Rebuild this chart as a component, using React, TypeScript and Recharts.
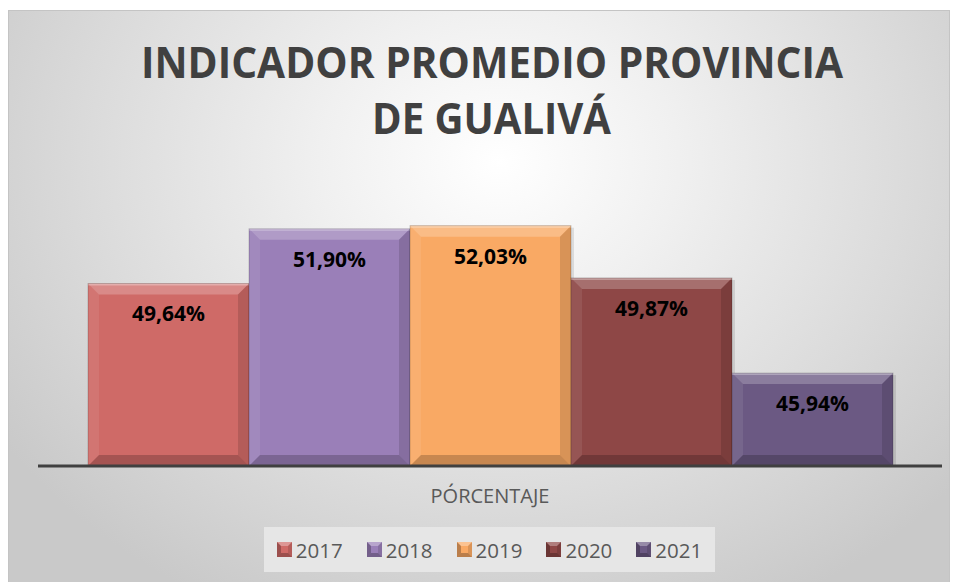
import React from 'react';
import { BarChart, Bar, XAxis, YAxis, Legend, LabelList } from 'recharts';

const categories = ['PÓRCENTAJE'];
const years = ['2017', '2018', '2019', '2020', '2021'];
const values = [49.64, 51.9, 52.03, 49.87, 45.94];
const colors = ['#CF6A67', '#9A7FB8', '#F9A964', '#8E4746', '#6B5983'];
const titleLines = ['INDICADOR PROMEDIO PROVINCIA', 'DE GUALIVÁ'];

const data = categories.map((name) => {
  const row: Record<string, string | number> = { name };
  years.forEach((y, i) => {
    row['y' + y] = values[i];
  });
  return row;
});

const FONT = '"Open Sans", "DejaVu Sans", sans-serif';

const BevelBar = (props: any) => {
  const { x, y, width, height, fill } = props;
  if (!width || !height || height <= 0) return null;
  const b = Math.min(11, height / 3, width / 3);
  const r = x + width;
  const btm = y + height;
  return (
    <g>
      <rect x={x + 3} y={y + 2} width={width} height={height} fill="#000" opacity={0.1} />
      <rect x={x} y={y} width={width} height={height} fill={fill} />
      <polygon points={`${x},${y} ${r},${y} ${r - b},${y + b} ${x + b},${y + b}`} fill="#fff" opacity={0.22} />
      <polygon points={`${x},${y} ${x + b},${y + b} ${x + b},${btm - b} ${x},${btm}`} fill="#fff" opacity={0.08} />
      <polygon points={`${r},${y} ${r},${btm} ${r - b},${btm - b} ${r - b},${y + b}`} fill="#000" opacity={0.13} />
      <polygon points={`${x},${btm} ${r},${btm} ${r - b},${btm - b} ${x + b},${btm - b}`} fill="#000" opacity={0.2} />
      <line x1={x} y1={y + 1} x2={r} y2={y + 1} stroke="#fff" strokeOpacity={0.3} strokeWidth={2} />
      <rect x={x} y={y} width={width} height={height} fill="none" stroke="#000" strokeOpacity={0.18} strokeWidth={1} />
    </g>
  );
};

const Swatch = ({ color }: { color: string }) => (
  <svg width={15} height={15} style={{ display: 'block' }}>
    <rect x={0} y={0} width={15} height={15} fill={color} />
    <polygon points="0,0 15,0 11,4 4,4" fill="#fff" opacity={0.3} />
    <polygon points="0,0 4,4 4,11 0,15" fill="#000" opacity={0.25} />
    <polygon points="15,0 15,15 11,11 11,4" fill="#000" opacity={0.12} />
    <polygon points="0,15 15,15 11,11 4,11" fill="#000" opacity={0.25} />
  </svg>
);

const LegendContent = () => (
  <div
    style={{
      width: 451,
      height: 45,
      background: '#e6e6e6',
      display: 'flex',
      alignItems: 'center',
      justifyContent: 'center',
      gap: 24,
      boxSizing: 'border-box',
    }}
  >
    {years.map((y, i) => (
      <div key={y} style={{ display: 'flex', alignItems: 'center', gap: 4 }}>
        <Swatch color={colors[i]} />
        <span style={{ fontFamily: FONT, fontSize: 20.5, color: '#595959', lineHeight: '20px' }}>{y}</span>
      </div>
    ))}
  </div>
);

const AxisTick = (props: any) => {
  const { x, payload } = props;
  return (
    <text x={x} y={503} textAnchor="middle" fontFamily={FONT} fontSize={20} fill="#595959">
      {payload.value}
    </text>
  );
};

const fmt = (v: any) => Number(v).toFixed(2).replace('.', ',') + '%';

export default function App() {
  return (
    <div style={{ position: 'absolute', left: 0, top: 0, width: 958, height: 582, overflow: 'hidden' }}>
      <div
        style={{
          position: 'absolute',
          left: 8,
          top: 10,
          width: 942,
          height: 580,
          border: '1px solid #c4c4c4',
          boxSizing: 'border-box',
          background: 'radial-gradient(ellipse 600px 500px at 490px 150px, #ffffff 0%, #f0f0f0 30%, #dadada 70%, #c9c9c9 100%)',
        }}
      />
      <div style={{ position: 'absolute', left: 0, top: 0 }}>
        <BarChart
          width={958}
          height={582}
          data={data}
          margin={{ top: 178, right: 16, bottom: 86, left: 38 }}
          barCategoryGap={50}
          barGap={0}
        >
          <YAxis hide domain={[42.1, 54]} allowDataOverflow />
          <XAxis
            dataKey="name"
            height={30}
            tickLine={false}
            axisLine={{ stroke: '#404040', strokeWidth: 3 }}
            tick={<AxisTick />}
          />
          <Legend
            layout="horizontal"
            verticalAlign="middle"
            align="center"
            content={<LegendContent />}
            wrapperStyle={{ position: 'absolute', left: 264, top: 527, width: 451, height: 45 }}
          />
          {years.map((y, i) => (
            <Bar
              key={y}
              dataKey={'y' + y}
              name={y}
              fill={colors[i]}
              shape={<BevelBar />}
              isAnimationActive={false}
            >
              <LabelList
                dataKey={'y' + y}
                position="insideTop"
                offset={23}
                formatter={fmt}
                fill="#000"
                fontFamily={FONT}
                fontWeight={700}
                fontSize={21}
              />
            </Bar>
          ))}
        </BarChart>
      </div>
      <svg width={958} height={582} style={{ position: 'absolute', left: 0, top: 0, pointerEvents: 'none' }}>
        <text
          x={492}
          y={78}
          textAnchor="middle"
          fontFamily={FONT}
          fontWeight={700}
          fontSize={43}
          fill="#404040"
          textLength={702}
          lengthAdjust="spacingAndGlyphs"
        >
          {titleLines[0]}
        </text>
        <text
          x={491.5}
          y={134}
          textAnchor="middle"
          fontFamily={FONT}
          fontWeight={700}
          fontSize={43}
          fill="#404040"
          textLength={239}
          lengthAdjust="spacingAndGlyphs"
        >
          {titleLines[1]}
        </text>
      </svg>
    </div>
  );
}
